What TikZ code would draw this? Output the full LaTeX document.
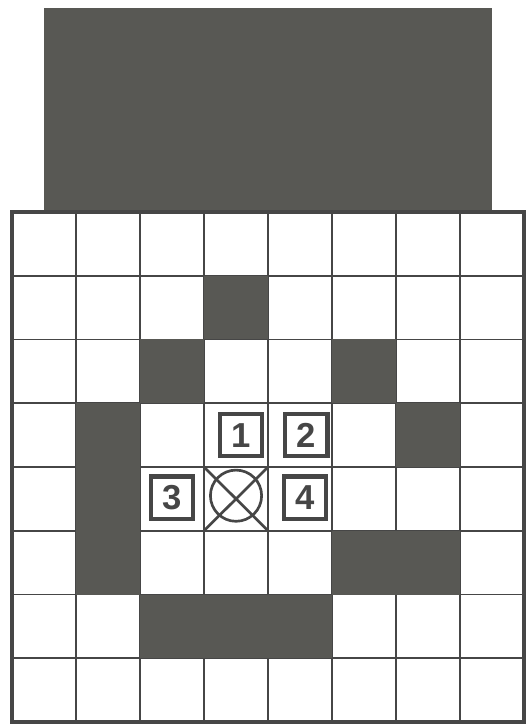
\documentclass[tikz,border=0pt]{standalone}
\usepackage{fontspec}
\newfontfamily\numfont{Liberation Sans}
\usepackage{tikz}
\usetikzlibrary{positioning}

\definecolor{darkcell}{RGB}{88,88,84}
\definecolor{gridgray}{RGB}{70,70,70}

\tikzset{
    darkfill/.style={fill=darkcell},
    gridline/.style={draw=gridgray, line width=1.3pt},
    numbox/.style={draw=gridgray, line width=3.2pt, minimum width=0.66*48pt, minimum height=0.66*47.8pt,
        inner sep=0pt, font=\numfont\bfseries\fontsize{26}{26}\selectfont, text=gridgray},
}

\begin{document}
\begin{tikzpicture}[x=48pt, y=-47.8125pt]
    \useasboundingbox (-0.1875,-3.325) rectangle (8.094,8.031);

    % top block
    \fill[darkcell] (0.5,-3.2) rectangle (7.5,0);

    \foreach \i in {1,...,7} {
        \draw[gridline] (\i,0) -- (\i,8);
        \draw[gridline] (0,\i) -- (8,\i);
    }

    % dark cells (column/row)
    \foreach \c/\r in {3/1, 2/2, 5/2, 1/3, 6/3, 1/4, 1/5, 5/5, 6/5, 2/6, 3/6, 4/6}
        \fill[darkfill] (\c,\r) rectangle ++(1,1);

    \draw[draw=gridgray, line width=2.6pt] (0,0) rectangle (8,8);

    % numbered squares
    \node[numbox] (n1) at (3.58,3.5) {1};
    \node[numbox] (n2) at (4.6,3.5) {2};
    \node[numbox] (n3) at (2.5,4.48) {3};
    \node[numbox] (n4) at (4.58,4.48) {4};

    % crossed circle
    \node[circle, draw=gridgray, line width=2pt, minimum size=0.8*48pt] (goal) at (3.5,4.45) {};
    \draw[draw=gridgray, line width=2pt] (3,4) -- (4,5);
    \draw[draw=gridgray, line width=2pt] (4,4) -- (3,5);
\end{tikzpicture}
\end{document}
